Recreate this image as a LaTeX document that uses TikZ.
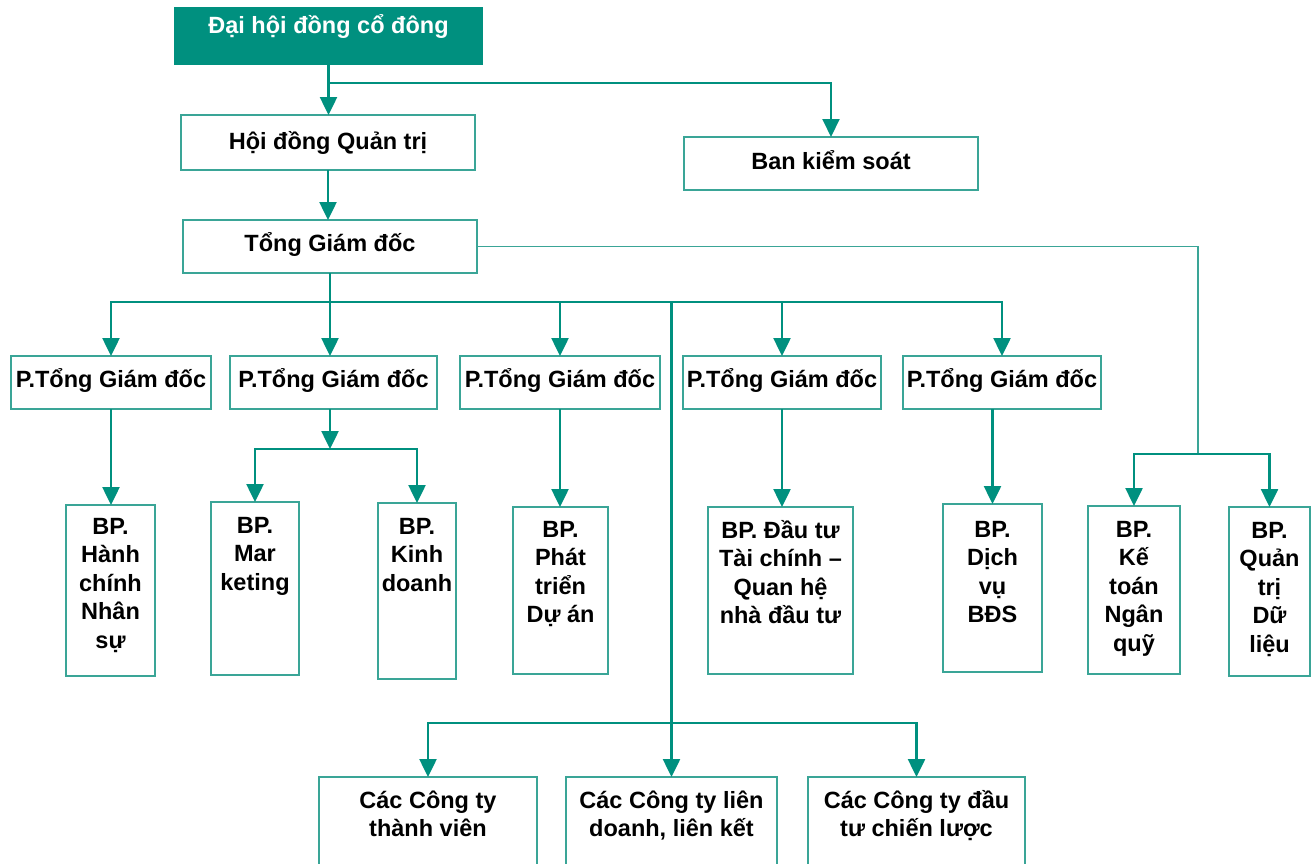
\documentclass[tikz,border=0pt]{standalone}
\usepackage{fontspec}
\setmainfont{Liberation Sans}
\usetikzlibrary{arrows.meta}
\definecolor{tealA}{HTML}{00907F}
\definecolor{tealB}{HTML}{3AA597}
\newcommand\mlines[1]{\vtop{\baselineskip=28.5pt\lineskiplimit=-100pt\halign{\hfil##\hfil\cr#1\crcr}}}
\begin{document}
\begin{tikzpicture}[x=1pt,y=-1pt,
  box/.style={draw=tealB,line width=1.8pt,rectangle,inner sep=0pt,outer sep=0pt},
  txt/.style={anchor=base,inner sep=0pt,outer sep=0pt,font=\fontsize{23.5}{28.5}\selectfont\bfseries},
  conn/.style={draw=tealA,line width=2.5pt},
  arr/.style={conn,-{Triangle[width=17pt,length=18pt]}},
  thinconn/.style={draw=tealB,line width=1.6pt}]
\useasboundingbox (0,0) rectangle (1314,863);
\fill[white] (0,0) rectangle (1314,863);
% boxes
\node[box,fill=tealA,draw=tealA,minimum width=307pt,minimum height=56pt] (dh) at (328.5,36) {};
\node[box,minimum width=294pt,minimum height=55pt] (hd) at (328,142.5) {};
\node[box,minimum width=294pt,minimum height=53pt] (bks) at (831,163.5) {};
\node[box,minimum width=294pt,minimum height=53pt] (tgd) at (330,246.5) {};
\node[box,minimum width=200pt,minimum height=53pt] (p1) at (111,382.5) {};
\node[box,minimum width=207pt,minimum height=53pt] (p2) at (333.5,382.5) {};
\node[box,minimum width=200pt,minimum height=53pt] (p3) at (560,382.5) {};
\node[box,minimum width=198pt,minimum height=53pt] (p4) at (782,382.5) {};
\node[box,minimum width=198pt,minimum height=53pt] (p5) at (1002,382.5) {};
\node[box,minimum width=89pt,minimum height=171pt] (bp1) at (110.5,590.5) {};
\node[box,minimum width=88pt,minimum height=173pt] (bp2) at (255,588.5) {};
\node[box,minimum width=78pt,minimum height=176pt] (bp3) at (417,591) {};
\node[box,minimum width=95pt,minimum height=167pt] (bp4) at (560.5,590.5) {};
\node[box,minimum width=145pt,minimum height=167pt] (bp5) at (780.5,590.5) {};
\node[box,minimum width=99pt,minimum height=168pt] (bp6) at (992.5,588) {};
\node[box,minimum width=92pt,minimum height=168pt] (bp7) at (1134,590) {};
\node[box,minimum width=81pt,minimum height=169pt] (bp8) at (1269.5,591.5) {};
\node[box,minimum width=218pt,minimum height=98pt] (c1) at (428,826) {};
\node[box,minimum width=211pt,minimum height=98pt] (c2) at (671.5,826) {};
\node[box,minimum width=217pt,minimum height=98pt] (c3) at (916.5,826) {};
% texts
\node[txt,text=white] (tdh) at (328.5,33) {Đại hội đồng cổ đông};
\node[txt] (thd) at (328,149) {Hội đồng Quản trị};
\node[txt] (tbks) at (831,169) {Ban kiểm soát};
\node[txt] (ttgd) at (330,251) {Tổng Giám đốc};
\node[txt] (tp1) at (111,387) {P.Tổng Giám đốc};
\node[txt] (tp2) at (333.5,387) {P.Tổng Giám đốc};
\node[txt] (tp3) at (560,387) {P.Tổng Giám đốc};
\node[txt] (tp4) at (782,387) {P.Tổng Giám đốc};
\node[txt] (tp5) at (1002,387) {P.Tổng Giám đốc};
\node[txt] (tbp1) at (110.5,534) {\mlines{BP.\cr Hành\cr chính\cr Nhân\cr sự}};
\node[txt] (tbp2) at (255,533) {\mlines{BP.\cr Mar\cr keting}};
\node[txt] (tbp3) at (417,534) {\mlines{BP.\cr Kinh\cr doanh}};
\node[txt] (tbp4) at (560.5,537) {\mlines{BP.\cr Phát\cr triển\cr Dự án}};
\node[txt] (tbp5) at (780.5,538) {\mlines{BP. Đầu tư\cr Tài chính –\cr Quan hệ\cr nhà đầu tư}};
\node[txt] (tbp6) at (992.5,537) {\mlines{BP.\cr Dịch\cr vụ\cr BĐS}};
\node[txt] (tbp7) at (1134,537) {\mlines{BP.\cr Kế\cr toán\cr Ngân\cr quỹ}};
\node[txt] (tbp8) at (1269.5,538) {\mlines{BP.\cr Quản\cr trị\cr Dữ\cr liệu}};
\node[txt] (tc1) at (428,808) {\mlines{Các Công ty\cr thành viên}};
\node[txt] (tc2) at (671.5,808) {\mlines{Các Công ty liên\cr doanh, liên kết}};
\node[txt] (tc3) at (916.5,808) {\mlines{Các Công ty đầu\cr tư chiến lược}};
% connectors
\coordinate (j1) at (329,83);
\draw[arr] (dh.south) -- (dh.south |- hd.north);
\draw[arr,line width=2pt] (dh.south |- j1) -| (bks.north);
\draw[arr] (hd.south) -- (hd.south |- tgd.north);
\coordinate (j3) at (1198,454);
\draw[thinconn] (tgd.east) -| (j3);
\draw[arr] (j3) -| (bp7.north);
\draw[arr] (j3) -| (bp8.north);
\coordinate (b1) at (330,302);
\draw[arr] (tgd.south) -- (tgd.south |- p2.north);
\draw[arr] (b1) -| (p1.north);
\draw[arr] (b1) -| (p3.north);
\draw[arr] (b1) -| (p4.north);
\draw[arr] (b1) -| (p5.north);
\coordinate (b2) at (671.5,723);
\draw[arr] (b1 -| c2.north) -- (c2.north);
\draw[arr] (b2) -| (c1.north);
\draw[arr] (b2) -| (c3.north);
\coordinate (b3) at (330,449);
\draw[arr] (b3 |- p2.south) -- (b3);
\draw[arr] (b3) -| (bp2.north);
\draw[arr] (b3) -| (bp3.north);
\draw[arr] (p1.south) -- (p1.south |- bp1.north);
\draw[arr] (p3.south) -- (p3.south |- bp4.north);
\draw[arr] (p4.south) -- (p4.south |- bp5.north);
\draw[arr] (bp6.north |- p5.south) -- (bp6.north);
\end{tikzpicture}
\end{document}
